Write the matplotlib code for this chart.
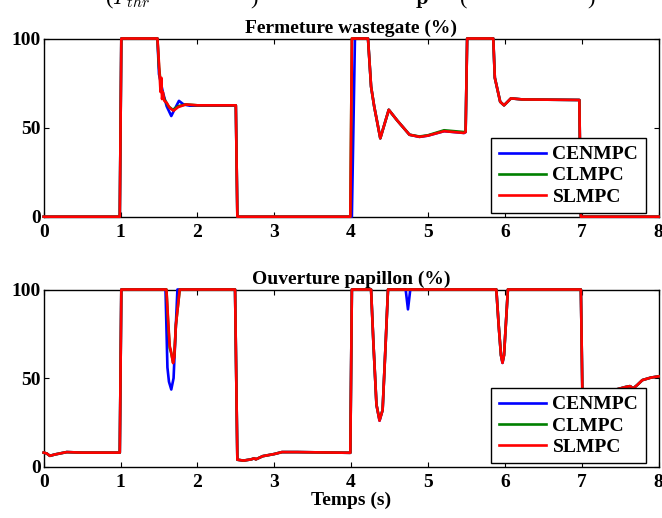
import matplotlib
matplotlib.use("Agg")
import matplotlib.pyplot as plt

plt.rcParams['font.family'] = ['Liberation Serif', 'DejaVu Serif']
plt.rcParams['font.weight'] = 'bold'
plt.rcParams['mathtext.fontset'] = 'cm'

# ---- Top panel: Fermeture wastegate (%) ----
wg_red_t = [0, 0.99, 1.01, 1.48, 1.50, 1.52, 1.53, 1.54, 1.55, 1.57, 1.60, 1.64, 1.69, 1.75, 1.85, 2.0,
            2.50, 2.52, 3.99, 4.01, 4.22, 4.26, 4.30, 4.38, 4.49, 4.60, 4.76, 4.89, 5.00, 5.21, 5.47,
            5.49, 5.51, 5.85, 5.87, 5.94, 5.99, 6.08, 6.23, 6.97, 6.99, 8.0]
wg_red_v = [0, 0, 100, 100, 86, 70, 78, 66, 70, 65, 64, 61, 59.5, 61.5, 63, 62.5,
            62.5, 0, 0, 100, 100, 73, 62, 44, 60, 54, 46, 44.8, 45.5, 48, 47,
            47.5, 100, 100, 78, 64.5, 62.5, 66.4, 65.8, 65.5, 0, 0]

wg_green_t = [0, 0.99, 1.01, 1.48, 1.50, 1.53, 1.57, 1.62, 1.68, 1.75, 1.85, 2.0,
              2.50, 2.52, 3.99, 4.01, 4.22, 4.26, 4.30, 4.38, 4.49, 4.60, 4.76, 4.89, 5.00, 5.21, 5.47,
              5.49, 5.51, 5.85, 5.87, 5.94, 5.99, 6.08, 6.23, 6.97, 6.99, 8.0]
wg_green_v = [0, 0, 100, 100, 84, 72, 66, 62, 60, 62, 63, 62.5,
              62.5, 0, 0, 100, 100, 73, 62, 44, 60, 54, 46, 45, 45.7, 48.5, 47.5,
              47.8, 100, 100, 78, 64.5, 62.5, 66.4, 65.8, 65.5, 0, 0]

wg_blue_t = [0, 0.99, 1.01, 1.48, 1.50, 1.55, 1.60, 1.66, 1.70, 1.76, 1.82, 1.90, 2.0,
             2.50, 2.52, 4.01, 4.05, 4.22, 4.26, 4.30, 4.38, 4.49, 4.60, 4.76, 4.89, 5.00, 5.21, 5.47,
             5.49, 5.51, 5.85, 5.87, 5.94, 5.99, 6.08, 6.23, 6.97, 6.99, 8.0]
wg_blue_v = [0, 0, 100, 100, 80, 70, 62, 56.5, 60, 65, 63, 62.3, 62.3,
             62.3, 0, 0, 100, 100, 73, 62, 44, 60, 54, 46, 44.8, 45.5, 48, 47,
             47.5, 100, 100, 78, 64.5, 62.5, 66.4, 65.8, 65.5, 0, 0]

# ---- Bottom panel: Ouverture papillon (%) ----
pap_red_t = [0, 0.04, 0.08, 0.15, 0.30, 0.50, 0.99, 1.01, 1.597, 1.62, 1.64, 1.653, 1.683, 1.70, 1.72, 1.77,
             2.49, 2.52, 2.60, 2.70, 2.74, 2.76, 2.85, 3.00, 3.10, 3.30, 3.99, 4.01,
             4.26, 4.29, 4.33, 4.37, 4.41, 4.45, 4.48, 5.89, 5.92, 5.95, 5.97, 5.99, 6.02, 6.04,
             6.99, 7.01, 7.20, 7.40, 7.57, 7.63, 7.67, 7.72, 7.79, 7.90, 8.0]
pap_red_v = [8, 7.5, 6.2, 7, 8.3, 8, 8, 100, 100, 82, 68, 66, 58.5, 62, 80, 100,
             100, 4, 3.5, 4.2, 4.8, 4.2, 6, 7.2, 8.3, 8.3, 7.9, 100,
             100, 70, 35, 26, 32, 70, 100, 100, 80, 63, 58.6, 63, 85, 100,
             100, 40, 41, 43, 45, 45.5, 44.2, 46, 48.9, 50.3, 51]

pap_green_t = [0, 0.04, 0.08, 0.15, 0.30, 0.50, 0.99, 1.01, 1.597, 1.62, 1.64, 1.66, 1.683, 1.70, 1.72, 1.77,
               2.49, 2.52, 2.60, 2.70, 2.74, 2.76, 2.85, 3.00, 3.10, 3.30, 3.99, 4.01,
               4.26, 4.29, 4.33, 4.37, 4.41, 4.45, 4.48, 5.89, 5.92, 5.95, 5.97, 5.99, 6.02, 6.04,
               6.99, 7.01, 7.20, 7.40, 7.57, 7.63, 7.67, 7.72, 7.79, 7.90, 8.0]
pap_green_v = [8, 7.5, 6.2, 7, 8.3, 8, 8, 100, 100, 80, 67, 64, 59, 63, 80, 100,
               100, 4, 3.5, 4.2, 4.8, 4.2, 6, 7.2, 8.3, 8.3, 7.9, 100,
               100, 70, 35, 26.5, 32, 70, 100, 100, 80, 63, 59, 63, 85, 100,
               100, 40, 41, 43, 45, 45.5, 44.2, 46, 48.9, 50.3, 51]

pap_blue_t = [0, 0.04, 0.08, 0.15, 0.30, 0.50, 0.99, 1.01, 1.585, 1.61, 1.63, 1.66, 1.69, 1.715, 1.74,
              2.49, 2.52, 2.60, 2.70, 2.74, 2.76, 2.85, 3.00, 3.10, 3.30, 3.99, 4.01,
              4.26, 4.29, 4.33, 4.37, 4.41, 4.45, 4.48, 4.71, 4.74, 4.77, 5.89, 5.92, 5.95, 5.97, 5.99, 6.02, 6.04,
              6.99, 7.01, 7.20, 7.40, 7.57, 7.63, 7.67, 7.72, 7.79, 7.90, 8.0]
pap_blue_v = [8, 7.5, 6.2, 7, 8.3, 8, 8, 100, 100, 56, 48, 43.6, 50, 75, 100,
              100, 4, 3.5, 4.2, 4.8, 4.2, 6, 7.2, 8.3, 8.3, 7.9, 100,
              100, 70, 35, 26, 32, 70, 100, 100, 88.8, 100, 100, 80, 63, 58.6, 63, 85, 100,
              100, 40, 41, 43, 45, 45.5, 44.2, 46, 48.9, 50.3, 51]

series_labels = ['CENMPC', 'CLMPC', 'SLMPC']
series_colors = ['#0000ff', '#008000', '#ff0000']
x_ticks = [0, 1, 2, 3, 4, 5, 6, 7, 8]
y_ticks = [0, 50, 100]
titles = ['Fermeture wastegate (%)', 'Ouverture papillon (%)']
xlabel = 'Temps (s)'

W, H = 662, 518
fig = plt.figure(figsize=(W / 100, H / 100), dpi=100)

def axes_rect(l, t, r, b):
    return [l / W, 1 - b / H, (r - l) / W, (b - t) / H]

ax1 = fig.add_axes(axes_rect(43.7, 38.5, 658.5, 216.7))
ax2 = fig.add_axes(axes_rect(43.7, 289.5, 658.5, 466.8))

panels = [
    (ax1, [(wg_blue_t, wg_blue_v), (wg_green_t, wg_green_v), (wg_red_t, wg_red_v)]),
    (ax2, [(pap_blue_t, pap_blue_v), (pap_green_t, pap_green_v), (pap_red_t, pap_red_v)]),
]

for i, (ax, data) in enumerate(panels):
    for (t, v), lab, col in zip(data, series_labels, series_colors):
        ax.plot(t, v, color=col, lw=1.9, label=lab, solid_joinstyle='round', clip_on=False)
    ax.set_xlim(0, 8)
    ax.set_ylim(0, 100)
    ax.set_xticks(x_ticks)
    ax.set_yticks(y_ticks)
    ax.tick_params(direction='in', top=True, right=True, length=3.8, width=0.8,
                   labelsize=14, pad=3)
    ax.tick_params(axis='x', pad=5)
    ax.tick_params(axis='y', pad=2)
    for lbl in ax.get_xticklabels() + ax.get_yticklabels():
        lbl.set_fontweight('bold')
    for s in ax.spines.values():
        s.set_linewidth(1.0)
        s.set_zorder(1)
    ax.set_title(titles[i], fontsize=14, fontweight='bold', pad=4)
    leg = ax.legend(loc='lower right', bbox_to_anchor=(0.9797, 0.019), borderaxespad=0,
                    fancybox=False, framealpha=1, edgecolor='black',
                    handlelength=2.4, handletextpad=0.35, labelspacing=0.18,
                    borderpad=0.4, prop={'weight': 'bold', 'size': 14})
    leg.get_frame().set_linewidth(1.0)
    leg.set_zorder(5)

ax2.set_xlabel(xlabel, fontsize=14, fontweight='bold', labelpad=1)

# partially clipped caption line from the page above
cap_y = 1 - 4 / H
cap_kw = dict(fontsize=16, va='baseline', ha='left', fontweight='normal')
fig.text(105 / W, cap_y, r'($P_{thr}$', **cap_kw)
fig.text(250 / W, cap_y, ')', **cap_kw)
fig.text(415 / W, cap_y, r'$\mathbf{p}$', **cap_kw)
fig.text(460 / W, cap_y, '(', **cap_kw)
fig.text(587 / W, cap_y, ')', **cap_kw)

fig.savefig('out.png', dpi=100)
